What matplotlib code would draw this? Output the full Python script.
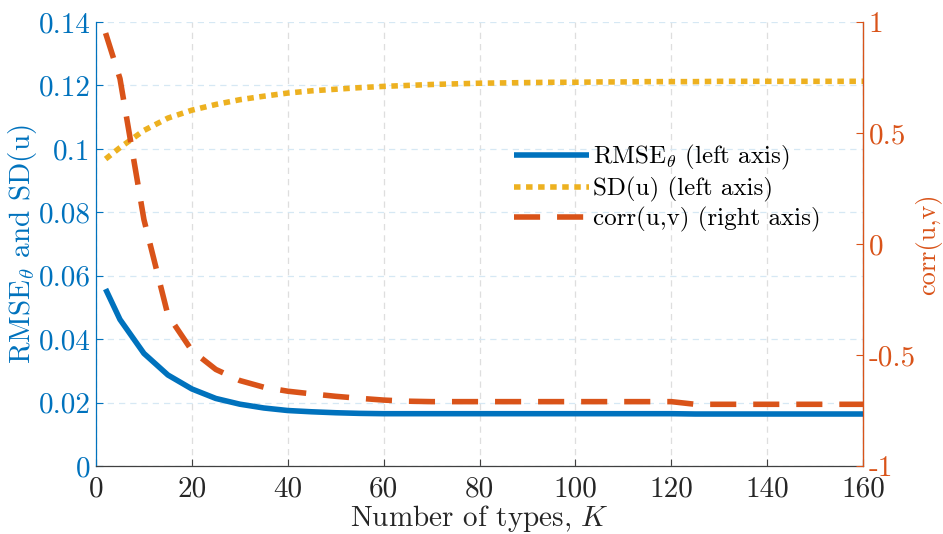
import matplotlib
matplotlib.use('Agg')
import matplotlib.pyplot as plt

plt.rcParams['font.family'] = 'cmr10'
plt.rcParams['mathtext.fontset'] = 'cm'
plt.rcParams['axes.unicode_minus'] = False
plt.rcParams['axes.formatter.use_mathtext'] = True

# data
K = [2, 5, 10, 15, 20, 25, 30, 35, 40, 45, 50, 55, 60, 65, 70, 75, 80,
     85, 90, 95, 100, 105, 110, 115, 120, 125, 130, 135, 140, 145, 150, 155, 160]
rmse = [0.0558, 0.0462, 0.0355, 0.0287, 0.0243, 0.0213, 0.0195, 0.0183, 0.0175,
        0.0171, 0.0168, 0.0166, 0.0165, 0.0165, 0.0165, 0.0165, 0.0165, 0.0165,
        0.0165, 0.0165, 0.0165, 0.0165, 0.0165, 0.0165, 0.0165, 0.0164, 0.0164,
        0.0164, 0.0164, 0.0164, 0.0164, 0.0164, 0.0164]
sd_u = [0.0968, 0.1004, 0.1058, 0.1097, 0.1122, 0.1140, 0.1155, 0.1166, 0.1176,
        0.1183, 0.1188, 0.1193, 0.1197, 0.1200, 0.1203, 0.1205, 0.1207, 0.1208,
        0.1209, 0.1210, 0.1210, 0.1211, 0.1211, 0.1212, 0.1212, 0.1212, 0.1213,
        0.1213, 0.1213, 0.1213, 0.1213, 0.1213, 0.1213]
corr_uv = [0.95, 0.745, 0.11, -0.32, -0.48, -0.565, -0.615, -0.645, -0.663,
           -0.675, -0.686, -0.695, -0.703, -0.708, -0.710, -0.710, -0.710, -0.710,
           -0.710, -0.710, -0.710, -0.710, -0.710, -0.710, -0.710, -0.722, -0.722,
           -0.722, -0.722, -0.722, -0.722, -0.722, -0.722]

xticks = [0, 20, 40, 60, 80, 100, 120, 140, 160]
lticks = [0, 0.02, 0.04, 0.06, 0.08, 0.1, 0.12, 0.14]
lticklabels = ['0', '0.02', '0.04', '0.06', '0.08', '0.1', '0.12', '0.14']
rticks = [-1, -0.5, 0, 0.5, 1]
rticklabels = ['-1', '-0.5', '0', '0.5', '1']

BLUE = '#0072BD'
ORANGE = '#D95319'
YELLOW = '#EDB120'
DARK = '#262626'
FS = 21
LFS = 18
LW = 4.0

fig = plt.figure(figsize=(9.43, 5.34), dpi=100)
ax = fig.add_axes([0.1018, 0.1273, 0.8134, 0.8315])
ax2 = ax.twinx()

l1, = ax.plot(K, rmse, color=BLUE, lw=LW, solid_capstyle='butt',
              label=r'RMSE$_\theta$ (left axis)')
l2, = ax.plot(K, sd_u, color=YELLOW, lw=LW, linestyle=(0, (1.17, 1.0)),
              dash_capstyle='butt', label='SD(u) (left axis)')
l3, = ax2.plot(K, corr_uv, color=ORANGE, lw=LW, linestyle=(0, (4.7, 3.05)),
               dash_capstyle='butt', label='corr(u,v) (right axis)')

ax.set_xlim(0, 160)
ax.set_ylim(0, 0.14)
ax2.set_ylim(-1, 1)

ax.set_xticks(xticks)
ax.set_xticklabels([str(t) for t in xticks], fontsize=FS, color=DARK)
ax.set_yticks(lticks)
ax.set_yticklabels(lticklabels, fontsize=FS, color=BLUE)
ax2.set_yticks(rticks)
ax2.set_yticklabels(rticklabels, fontsize=FS, color=ORANGE)

ax.tick_params(axis='x', direction='in', length=5, width=0.8, color='#404040', pad=7)
ax.tick_params(axis='y', direction='in', length=5, width=0.8, color=BLUE, pad=4)
ax2.tick_params(axis='y', direction='in', length=5, width=0.8, color=ORANGE, pad=4)

# grid: horizontal follows the left axis colour, vertical is grey
ax.yaxis.grid(True, linestyle=(0, (5, 4)), color='#d6e8f4', lw=0.9)
ax.xaxis.grid(True, linestyle=(0, (5, 4)), color='#dedede', lw=0.9)
ax.set_axisbelow(True)

for a in (ax, ax2):
    a.spines['top'].set_visible(False)
ax.spines['left'].set_color(BLUE)
ax.spines['bottom'].set_color('#404040')
ax2.spines['right'].set_color(ORANGE)
ax2.spines['left'].set_visible(False)
ax2.spines['bottom'].set_visible(False)
for s in ('left', 'bottom'):
    ax.spines[s].set_linewidth(0.9)
ax2.spines['right'].set_linewidth(0.9)

ax.set_xlabel(r'Number of types, $K$', fontsize=FS, color=DARK)
ax.xaxis.set_label_coords(0.5, -0.084)
ax.set_ylabel(r'RMSE$_\theta$ and SD(u)', fontsize=FS, color=BLUE)
ax.yaxis.set_label_coords(-0.074, 0.5)
ax2.set_ylabel('corr(u,v)', fontsize=19, color=ORANGE)
ax2.yaxis.set_label_coords(1.068, 0.5)

ax2.legend(handles=[l1, l2, l3], loc='upper left', bbox_to_anchor=(0.545, 0.727),
           frameon=False, fontsize=LFS, handlelength=3.0, handletextpad=0.15,
           labelspacing=0.2, borderaxespad=0, borderpad=0)

fig.savefig('out.png', dpi=100)
